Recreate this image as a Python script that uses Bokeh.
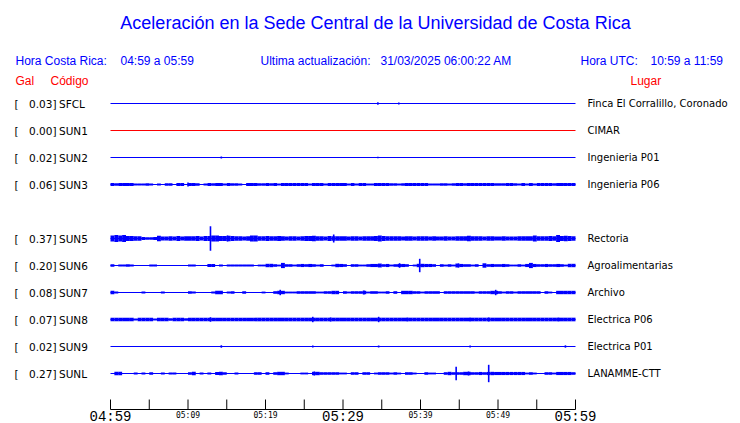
from bokeh.plotting import figure
from bokeh.models import Range1d, ColumnDataSource
from bokeh.core.properties import value
from bokeh.embed import file_html
from bokeh.resources import INLINE

# ---------------- data ----------------
TITLE = "Aceleración en la Sede Central de la Universidad de Costa Rica"
HORA_CR = "04:59 a 05:59"
HORA_UTC = "10:59 a 11:59"
ACTUALIZACION = "31/03/2025 06:00:22 AM"

codes = ["SFCL", "SUN1", "SUN2", "SUN3", "SUN5", "SUN6", "SUN7", "SUN8", "SUN9", "SUNL"]
rows = [0, 1, 2, 3, 5, 6, 7, 8, 9, 10]
gal = [0.03, 0.00, 0.02, 0.06, 0.37, 0.20, 0.08, 0.07, 0.02, 0.27]
lugares = ["Finca El Corralillo, Coronado", "CIMAR", "Ingenieria P01", "Ingenieria P06",
           "Rectoria", "Agroalimentarias", "Archivo", "Electrica P06", "Electrica P01",
           "LANAMME-CTT"]
trace_colors = ["blue", "red", "blue", "blue", "blue", "blue", "blue", "blue", "blue", "blue"]

# minutes after 04:59
tick_minutes = [0, 5, 10, 15, 20, 25, 30, 35, 40, 45, 50, 55, 60]
label_minutes = [0, 10, 20, 30, 40, 50, 60]
label_text = ["04:59", "05:09", "05:19", "05:29", "05:39", "05:49", "05:59"]
label_big = [True, False, False, True, False, False, True]

BIN_MIN = 0.5  # each envelope value covers 30 s

# noise envelope (half amplitude, relative units) per 30 s bin
env_SFCL = []
env_SUN1 = []
env_SUN2 = []
env_SUN3 = [1.2, 1.0, 1.2, 1.2, 1.2, 1.2, 0.7, 0.7, 0.7, 1.0,
            0.7, 0, 0.7, 0, 1.0, 1.0, 0, 1.2, 1.2, 0,
            1.2, 1.2, 1.0, 0, 0.7, 1.2, 1.0, 1.2, 1.2, 0.7,
            1.2, 1.0, 1.0, 0.7, 0, 1.2, 1.2, 1.2, 1.0, 1.0,
            1.2, 1.0, 1.2, 0.7, 1.2, 1.2, 1.2, 1.2, 1.2, 1.2,
            1.2, 0.7, 1.2, 1.2, 1.2, 0.7, 1.2, 1.2, 1.2, 1.2,
            1.2, 0.7, 1.2, 0.7, 1.2, 1.2, 0.7, 0.7, 1.2, 1.2,
            1.2, 1.2, 1.0, 1.0, 0.7, 1.0, 1.2, 1.2, 1.2, 1.2,
            1.2, 1.2, 0.7, 0.7, 0.7, 1.0, 1.0, 0.7, 1.0, 1.2,
            1.2, 1.0, 1.2, 1.2, 1.2, 1.2, 1.2, 1.2, 1.2, 1.0,
            1.0, 1.0, 1.2, 1.2, 1.0, 0.7, 1.2, 0.7, 1.2, 0.7,
            1.2, 1.2, 1.2, 1.2, 1.0, 1.2, 1.2, 1.2, 1.2, 1.2]
env_SUN5 = [2.3, 2.7, 2.3, 2.7, 2.0, 2.0, 1.7, 1.7, 1.2, 1.0,
            1.0, 1.2, 2.2, 1.5, 1.5, 1.7, 1.5, 2.0, 1.5, 1.7,
            1.7, 1.7, 2.0, 1.5, 2.0, 2.0, 2.3, 2.3, 2.0, 2.0,
            2.2, 2.0, 1.7, 1.7, 1.5, 1.7, 2.3, 2.3, 1.7, 1.7,
            2.0, 1.7, 1.7, 2.0, 1.7, 1.5, 1.7, 1.7, 1.5, 1.7,
            2.0, 2.0, 2.2, 1.7, 1.7, 1.5, 2.0, 1.7, 1.7, 1.7,
            1.7, 1.5, 1.7, 1.7, 1.5, 1.7, 1.7, 1.7, 2.0, 2.3,
            2.0, 1.7, 1.7, 1.7, 1.7, 1.5, 1.7, 1.7, 1.5, 1.7,
            1.7, 1.7, 1.5, 1.7, 1.5, 1.5, 1.7, 1.5, 1.5, 1.7,
            1.7, 1.7, 2.2, 1.7, 1.7, 1.7, 1.5, 1.7, 1.7, 1.5,
            1.5, 1.7, 1.5, 1.5, 1.5, 1.7, 1.7, 1.7, 1.7, 2.3,
            1.7, 1.7, 1.7, 2.0, 1.7, 2.7, 2.0, 2.2, 2.0, 1.7]
env_SUN6 = [1.0, 0, 0.7, 0.7, 1.0, 0.7, 0, 0, 0, 0,
            0.7, 0.7, 0, 0, 0, 0, 0, 0, 0, 0,
            0.7, 0.7, 0, 0, 0, 1.2, 1.2, 0, 0.7, 0,
            0.7, 0.7, 0.7, 0.7, 0.7, 0.7, 0.7, 0, 0.7, 0.7,
            1.3, 1.3, 1.0, 0.7, 2.0, 1.0, 1.0, 0.7, 1.0, 1.2,
            1.0, 1.2, 1.0, 0.7, 1.0, 0, 0, 0.7, 1.3, 1.2,
            1.0, 0, 1.0, 1.0, 0.7, 0.7, 1.0, 1.2, 1.2, 1.5,
            1.0, 1.2, 0.7, 1.0, 1.2, 1.2, 1.0, 0, 0.7, 1.3,
            1.3, 1.2, 1.2, 1.0, 0, 1.0, 0.7, 1.0, 0.7, 1.5,
            1.2, 1.0, 1.0, 0.7, 1.0, 0, 1.7, 1.0, 1.2, 1.0,
            1.0, 1.2, 1.0, 0.7, 0.7, 1.0, 0.7, 1.2, 2.0, 1.2,
            1.0, 1.0, 1.2, 1.0, 1.0, 1.2, 1.0, 0.7, 1.3, 1.3]
env_SUN7 = [1.3, 0.7, 0, 0, 0, 0, 0, 0, 0.7, 0,
            0, 0, 0, 0.7, 0, 0, 0, 0, 0, 0,
            1.0, 0.8, 0, 0, 0, 0, 0.7, 1.3, 1.3, 0,
            0.7, 1.0, 0, 0, 1.0, 0, 0, 0, 0, 0.7,
            0, 0, 1.0, 1.3, 1.3, 0.7, 0.7, 0.7, 1.0, 1.0,
            1.0, 1.0, 1.0, 0.7, 0.7, 1.0, 1.0, 1.3, 1.3, 0,
            1.0, 0.7, 1.0, 1.0, 1.0, 1.3, 0.7, 1.0, 1.0, 0.7,
            0.7, 1.0, 0, 1.0, 0, 1.3, 1.3, 1.3, 1.0, 1.0,
            0.7, 1.0, 1.0, 1.0, 1.0, 0, 1.0, 1.0, 1.0, 1.0,
            1.0, 1.0, 1.0, 1.0, 0.7, 1.0, 1.0, 1.0, 1.3, 1.3,
            1.0, 0.7, 1.0, 1.0, 0.7, 1.0, 1.0, 1.0, 1.0, 1.0,
            1.0, 0, 1.0, 0.7, 0, 1.3, 1.3, 1.3, 1.3, 1.3]
env_SUN8 = [1.4, 1.4, 1.4, 1.4, 1.4, 1.4, 0.8, 1.4, 1.4, 1.4,
            1.4, 0.8, 1.4, 1.4, 1.4, 1.0, 1.4, 1.4, 1.4, 1.0,
            1.4, 1.4, 1.4, 1.4, 1.4, 1.4, 1.4, 1.4, 1.4, 1.4,
            1.4, 1.4, 1.4, 1.4, 1.4, 1.4, 1.4, 1.4, 1.4, 1.4,
            1.4, 1.4, 1.4, 1.4, 1.4, 1.4, 1.4, 1.4, 1.4, 1.4,
            1.4, 1.4, 1.4, 1.4, 1.4, 1.4, 1.4, 1.4, 1.4, 1.4,
            1.4, 1.4, 1.4, 1.4, 1.4, 1.4, 1.4, 1.4, 1.4, 1.4,
            1.4, 1.4, 1.4, 1.4, 1.4, 1.4, 1.4, 1.4, 1.4, 1.4,
            1.4, 1.4, 1.4, 1.4, 1.4, 1.4, 1.4, 1.4, 1.4, 1.4,
            1.4, 1.4, 1.4, 1.4, 1.4, 1.4, 1.4, 1.4, 1.4, 1.4,
            1.4, 1.4, 1.4, 1.4, 1.4, 1.4, 1.4, 1.4, 1.4, 1.4,
            1.4, 1.4, 1.4, 1.4, 1.4, 1.4, 1.4, 1.4, 1.4, 1.4]
env_SUN9 = []
env_SUNL = [0, 1.3, 1.3, 0, 0, 0, 0.7, 0, 0.7, 0,
            1.0, 0, 0, 0.7, 0, 0.7, 0.7, 0, 0, 0,
            1.0, 1.3, 0, 0.7, 0, 0.7, 0, 1.2, 1.3, 1.0,
            0, 0, 0.7, 0, 0, 0, 0, 1.0, 1.0, 0,
            1.0, 0, 1.0, 1.3, 1.3, 0.7, 0, 0, 0, 0.7,
            0.7, 0, 1.3, 1.3, 1.0, 1.0, 1.0, 1.0, 1.0, 0.7,
            0.7, 0, 1.0, 1.0, 0, 1.0, 1.0, 0, 0.7, 1.0,
            1.0, 1.0, 0.7, 1.0, 0.7, 0, 1.0, 1.0, 0.7, 0,
            0, 1.0, 0.7, 0.7, 0, 0, 1.0, 1.3, 1.0, 1.0,
            1.0, 1.3, 1.3, 1.0, 1.0, 1.2, 1.0, 1.2, 1.3, 1.2,
            1.2, 1.2, 1.2, 1.2, 1.2, 1.2, 1.2, 0.7, 1.0, 0.7,
            0, 0, 1.0, 1.0, 0.7, 1.2, 1.2, 1.2, 1.2, 1.0]

# isolated peaks: (minute after 04:59, half amplitude)
peaks_SFCL = [(34.5, 1.2), (37.2, 1.0)]
peaks_SUN1 = []
peaks_SUN2 = [(14.3, 1.0), (34.5, 0.7)]
peaks_SUN3 = [(10.0, 2.0)]
peaks_SUN5 = [(12.9, 12.3), (15.1, 3.0), (28.8, 4.0)]
peaks_SUN6 = [(37.3, 2.3), (39.9, 6.7), (44.9, 2.0)]
peaks_SUN7 = [(21.9, 2.7), (32.7, 2.0), (49.7, 2.7)]
peaks_SUN8 = [(12.9, 2.3), (26.1, 2.7), (28.4, 2.0), (34.6, 2.7), (38.3, 1.8),
              (46.4, 1.8), (48.8, 2.0), (57.8, 1.8)]
peaks_SUN9 = [(14.3, 1.2), (26.1, 1.0), (34.6, 1.0), (46.4, 1.0), (58.7, 1.2)]
peaks_SUNL = [(26.3, 2.0), (44.6, 6.7), (46.2, 2.0), (48.8, 8.7)]

envelopes = [env_SFCL, env_SUN1, env_SUN2, env_SUN3, env_SUN5,
             env_SUN6, env_SUN7, env_SUN8, env_SUN9, env_SUNL]
peaks = [peaks_SFCL, peaks_SUN1, peaks_SUN2, peaks_SUN3, peaks_SUN5,
         peaks_SUN6, peaks_SUN7, peaks_SUN8, peaks_SUN9, peaks_SUNL]

# ---------------- layout helpers (page pixel -> data units) ----------------
PX_PER_MIN = 7.75
PX_PER_ROW = 27.0
X0_PX, Y0_PX = 110.0, 103.0
ENV_AMP = 1.3 / PX_PER_ROW   # envelope unit in row units
PEAK_AMP = 1.0 / PX_PER_ROW  # peak unit in row units


def X(px):
    return (px - X0_PX) / PX_PER_MIN


def Y(py):
    return (py - Y0_PX) / PX_PER_ROW


W, H = 740, 423
p = figure(width=W, height=H, output_backend="svg", toolbar_location=None,
           x_range=Range1d(X(0), X(W)), y_range=Range1d(Y(H), Y(0)),
           x_axis_type=None, y_axis_type=None, min_border=0,
           outline_line_color=None, background_fill_color="white",
           border_fill_color="white")
p.xgrid.visible = False
p.ygrid.visible = False

SANS = value("Liberation Sans")
DV = value("DejaVu Sans")
MONO = value("Liberation Mono")
BLUE = "#0000ff"
RED = "#ff0000"

# ---------------- traces ----------------
bl = dict(x0=[], x1=[], y=[], c=[])
q = dict(l=[], r=[], t=[], b=[], c=[])
pk = dict(x=[], t=[], b=[], c=[])
for row, env, pks, col in zip(rows, envelopes, peaks, trace_colors):
    bl["x0"].append(tick_minutes[0]); bl["x1"].append(tick_minutes[-1])
    bl["y"].append(row); bl["c"].append(col)
    for i, a in enumerate(env):
        if a > 0:
            q["l"].append(i * BIN_MIN); q["r"].append((i + 1) * BIN_MIN)
            q["t"].append(row - a * ENV_AMP); q["b"].append(row + a * ENV_AMP)
            q["c"].append(col)
    for t, a in pks:
        pk["x"].append(t); pk["t"].append(row - a * PEAK_AMP)
        pk["b"].append(row + a * PEAK_AMP); pk["c"].append(col)

p.segment(x0="x0", x1="x1", y0="y", y1="y", color="c", line_width=1,
          source=ColumnDataSource(bl))
p.quad(left="l", right="r", top="t", bottom="b", fill_color="c", line_color=None,
       source=ColumnDataSource(q))
p.segment(x0="x", x1="x", y0="t", y1="b", color="c", line_width=1.6,
          source=ColumnDataSource(pk))

# ---------------- time axis ----------------
p.segment(x0=[tick_minutes[0]], x1=[tick_minutes[-1]], y0=[Y(409)], y1=[Y(409)],
          color="black", line_width=1)
p.segment(x0=tick_minutes, x1=tick_minutes, y0=[Y(409)] * len(tick_minutes),
          y1=[Y(399)] * len(tick_minutes), color="black", line_width=1)
big_x = [m for m, b in zip(label_minutes, label_big) if b]
big_t = [t for t, b in zip(label_text, label_big) if b]
sm_x = [m for m, b in zip(label_minutes, label_big) if not b]
sm_t = [t for t, b in zip(label_text, label_big) if not b]
p.text(x=big_x, y=[Y(416)] * len(big_x), text=big_t, text_font=MONO,
       text_font_size="14px", text_align="center", text_baseline="middle",
       text_color="black")
p.text(x=sm_x, y=[Y(415)] * len(sm_x), text=sm_t, text_font=value("DejaVu Sans Mono"),
       text_font_size="8px", text_align="center", text_baseline="middle",
       text_color="black")

# ---------------- titles / headers ----------------
p.text(x=[X(375)], y=[Y(22.5)], text=[TITLE], text_font=SANS, text_font_size="18px",
       text_align="center", text_baseline="middle", text_color=BLUE)
p.text(x=[X(15), X(120), X(260), X(380), X(580), X(650)], y=[Y(60.5)] * 6,
       text=["Hora Costa Rica:", HORA_CR, "Ultima actualización:", ACTUALIZACION,
             "Hora UTC:", HORA_UTC],
       text_font=SANS, text_font_size="12px", text_align="left",
       text_baseline="middle", text_color=BLUE)
p.text(x=[X(15), X(50), X(630)], y=[Y(80.5)] * 3, text=["Gal", "Código", "Lugar"],
       text_font=SANS, text_font_size="12px", text_align="left",
       text_baseline="middle", text_color=RED)

# ---------------- station labels ----------------
n = len(rows)
p.text(x=[X(14)] * n, y=rows, text=["["] * n, text_font=DV, text_font_size="10.5px",
       text_align="left", text_baseline="middle", text_color="black")
p.text(x=[X(56)] * n, y=rows, text=["%.2f]" % g for g in gal], text_font=DV,
       text_font_size="10.5px", text_align="right", text_baseline="middle",
       text_color="black")
p.text(x=[X(58.5)] * n, y=rows, text=codes, text_font=DV, text_font_size="10.5px",
       text_align="left", text_baseline="middle", text_color="black")
p.text(x=[X(587)] * n, y=rows, text=lugares, text_font=DV, text_font_size="10px",
       text_align="left", text_baseline="middle", text_color="black")

open("out.html", "w").write(file_html(p, INLINE))
